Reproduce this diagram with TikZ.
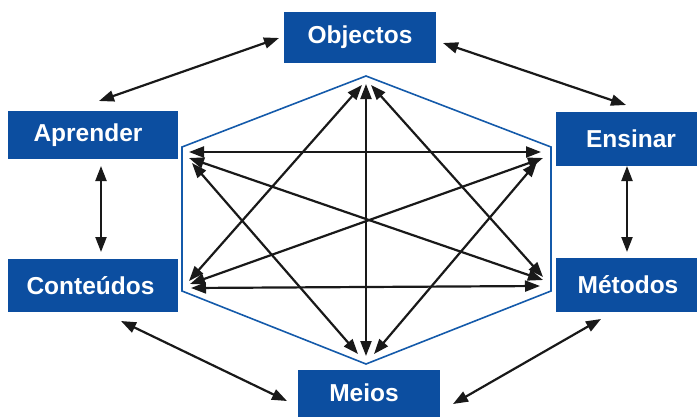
\documentclass[tikz,border=0pt]{standalone}
\usepackage{fontspec}
\setmainfont{Liberation Sans}
\usetikzlibrary{arrows.meta}
\definecolor{boxblue}{RGB}{12,78,160}
\definecolor{hexblue}{RGB}{20,90,170}
\begin{document}
\begin{tikzpicture}[x=1pt,y=-1pt,
  box/.style={fill=boxblue,draw=none,text=white,font=\bfseries\fontsize{24.5}{27}\selectfont,inner sep=0pt},
  link/.style={draw=black!90,line width=2.2pt,{Triangle[length=15pt,width=11pt]}-{Triangle[length=15pt,width=11pt]}}]
\useasboundingbox (0,0) rectangle (697,416);
% boxes
\node[box,minimum width=152pt,minimum height=51pt] (obj) at (360,37.5) {Objectos};
\node[box,minimum width=170pt,minimum height=48pt] (apr) at (93,135) {Aprender\hspace*{10pt}};
\node[box,minimum width=150pt,minimum height=54pt] (ens) at (631,139) {Ensinar};
\node[box,minimum width=170pt,minimum height=53pt] (con) at (93,285.5) {Conteúdos\hspace*{5pt}};
\node[box,minimum width=150pt,minimum height=54pt] (met) at (631,285) {Métodos\hspace*{6pt}};
\node[box,minimum width=142pt,minimum height=47pt] (mei) at (369,393) {Meios\hspace*{10pt}};
% hexagon
\coordinate (T) at (366,76);
\coordinate (UR) at (551,147);
\coordinate (LR) at (551,291);
\coordinate (B) at (366,364);
\coordinate (LL) at (182,291);
\coordinate (UL) at (182,147);
\draw[hexblue,line width=1.6pt,line join=miter] (T) -- (UR) -- (LR) -- (B) -- (LL) -- (UL) -- cycle;
% outer connector ends
\coordinate (oa1) at (279,38);  \coordinate (oa2) at (99,101);
\coordinate (oe1) at (443,43);  \coordinate (oe2) at (626,105);
\coordinate (ac1) at (101,166); \coordinate (ac2) at (101,252);
\coordinate (em1) at (627,166); \coordinate (em2) at (627,252);
\coordinate (cm1) at (121,321); \coordinate (cm2) at (287,401);
\coordinate (mm1) at (601,319); \coordinate (mm2) at (453,404);
\draw[link] (oa1) -- (oa2);
\draw[link] (oe1) -- (oe2);
\draw[link] (ac1) -- (ac2);
\draw[link] (em1) -- (em2);
\draw[link] (cm1) -- (cm2);
\draw[link] (mm1) -- (mm2);
% inner connector ends
\coordinate (tb) at (366,84);   \coordinate (bt) at (366,356);
\coordinate (tl) at (362,85);   \coordinate (lt) at (189,281);
\coordinate (tr) at (371,85);   \coordinate (rt) at (543,277);
\coordinate (ulh) at (189,152); \coordinate (urh) at (541,152);
\coordinate (ulr) at (189,158); \coordinate (lru) at (543,280);
\coordinate (ulb) at (192,163); \coordinate (bul) at (358,354);
\coordinate (url) at (543,158); \coordinate (llu) at (190,284);
\coordinate (urb) at (537,162); \coordinate (bur) at (374,354);
\coordinate (llh) at (191,288); \coordinate (lrh) at (540,286);
\draw[link] (tb) -- (bt);
\draw[link] (tl) -- (lt);
\draw[link] (tr) -- (rt);
\draw[link] (ulh) -- (urh);
\draw[link] (ulr) -- (lru);
\draw[link] (ulb) -- (bul);
\draw[link] (url) -- (llu);
\draw[link] (urb) -- (bur);
\draw[link] (llh) -- (lrh);
\end{tikzpicture}
\end{document}
